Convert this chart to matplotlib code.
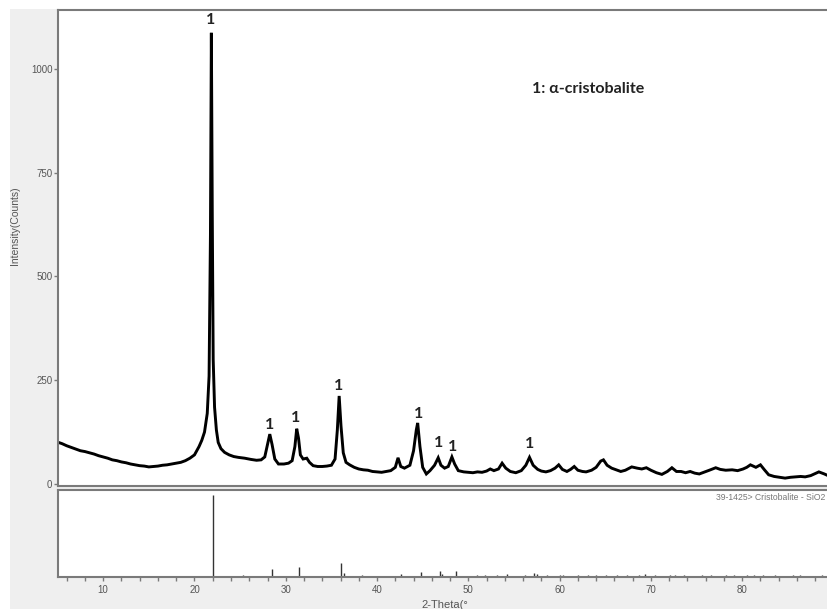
import numpy as np
import matplotlib
matplotlib.use('Agg')
import matplotlib.pyplot as plt


''' DATA '''
two_theta = [5.1, 5.5, 6.0, 6.5, 7.0, 7.5, 8.0, 8.5, 9.0, 9.5, 10.0, 10.5, 11.0, 11.5, 12.0,
             12.5, 13.0, 13.5, 14.0, 14.5, 15.0, 15.5, 16.0, 16.5, 17.0, 17.5, 18.0, 18.5,
             19.0, 19.5, 20.0, 20.5, 20.8, 21.1, 21.4, 21.6, 21.75, 21.85, 21.95, 22.05,
             22.2, 22.4, 22.6, 22.9, 23.3, 23.8, 24.3, 24.8, 25.5, 26.2, 26.8, 27.3, 27.7,
             28.0, 28.25, 28.5, 28.8, 29.2, 29.8, 30.3, 30.7, 31.0, 31.2, 31.4, 31.6, 31.9,
             32.3, 32.6, 33.0, 33.5, 34.0, 34.5, 35.0, 35.4, 35.65, 35.85, 36.05, 36.3,
             36.6, 37.0, 37.5, 38.0, 38.5, 39.0, 39.5, 40.0, 40.5, 41.0, 41.5, 42.0, 42.3,
             42.6, 43.0, 43.6, 44.0, 44.3, 44.45, 44.7, 45.0, 45.4, 45.8, 46.3, 46.7, 47.0,
             47.4, 47.8, 48.2, 48.5, 48.9, 49.5, 50.0, 50.5, 51.0, 51.5, 52.0, 52.4, 52.8,
             53.3, 53.7, 54.1, 54.6, 55.2, 55.8, 56.3, 56.7, 57.1, 57.6, 58.0, 58.5, 59.0,
             59.5, 59.9, 60.3, 60.8, 61.2, 61.6, 62.0, 62.5, 62.9, 63.5, 64.0, 64.5, 64.8,
             65.2, 65.7, 66.2, 66.7, 67.2, 67.9, 68.5, 69.0, 69.5, 70.0, 70.6, 71.2, 71.8,
             72.3, 72.8, 73.3, 73.8, 74.3, 74.8, 75.3, 75.8, 76.4, 77.1, 77.6, 78.2, 78.9,
             79.5, 80.1, 80.5, 80.9, 81.5, 82.0, 82.4, 82.9, 83.5, 84.1, 84.7, 85.3, 85.9,
             86.4, 86.9, 87.5, 88.0, 88.4, 89.0, 89.4]
counts = [100, 97, 92, 88, 84, 80, 78, 75, 72, 68, 65, 62, 58, 56, 53,
          51, 48, 46, 44, 43, 41, 42, 43, 45, 46, 48, 50, 52,
          56, 62, 70, 90, 105, 125, 170, 260, 600, 1087, 650, 300,
          185, 130, 100, 85, 76, 70, 66, 64, 62, 59, 57, 58, 65,
          95, 120, 95, 60, 48, 48, 50, 56, 90, 133, 110, 70, 60,
          62, 52, 44, 42, 42, 43, 45, 60, 130, 212, 140, 75,
          52, 46, 40, 36, 34, 33, 30, 29, 28, 30, 32, 40, 63,
          42, 38, 45, 80, 130, 147, 90, 40, 24, 32, 45, 63, 45,
          38, 42, 65, 48, 32, 29, 28, 27, 29, 28, 31, 36, 32,
          36, 50, 38, 30, 27, 32, 45, 64, 45, 35, 31, 29, 32,
          38, 46, 35, 30, 35, 42, 33, 30, 29, 33, 40, 55, 58,
          45, 38, 34, 30, 33, 41, 38, 36, 39, 33, 27, 23, 30,
          39, 30, 30, 27, 30, 26, 24, 28, 33, 39, 35, 33, 34,
          32, 36, 40, 46, 40, 46, 35, 22, 18, 16, 14, 16, 17,
          18, 17, 20, 25, 29, 24, 20]

# Reference card 39-1425 (cristobalite) stick positions and relative intensities
stick_pos = [21.98, 25.3, 28.44, 31.46, 36.08, 36.38, 38.4, 42.6, 44.8, 46.9, 47.1, 48.6,
             50.9, 51.8, 53.1, 54.2, 56.2, 57.2, 57.5, 58.6, 60.0, 60.4, 62.0, 63.1, 64.0,
             65.1, 66.3, 67.4, 68.7, 69.4, 70.5, 72.1, 72.6, 73.6, 75.6, 76.6, 78.2, 79.1,
             80.5, 81.3, 82.3, 83.6, 85.6, 86.3, 88.7]
stick_int = [100, 2, 10, 12, 17, 5, 3, 4, 6, 7, 4, 7,
             2, 3, 3, 4, 3, 5, 4, 3, 3, 3, 3, 2, 3,
             3, 2, 3, 3, 4, 3, 3, 3, 2, 3, 3, 2, 3,
             2, 3, 2, 2, 2, 2, 3]

# Peak markers "1" (alpha-cristobalite)
label_x = [21.8, 28.2, 31.1, 35.8, 44.5, 46.7, 48.3, 56.7]
label_y = [1118, 142, 159, 236, 169, 99, 89, 96]


''' PLOT '''
fig = plt.figure(figsize=(8.28, 6.09), dpi=100, facecolor='white')

# light grey frame of the diffractometer window
bg = fig.add_axes([10/828, 0, 818/828, 600/609], zorder=-5)
bg.set_facecolor('#efefef')
bg.set_xticks([])
bg.set_yticks([])
for s in bg.spines.values():
    s.set_visible(False)

spine_col = '#7a7a7a'
tick_col = '#555555'

# top panel: measured pattern
ax = fig.add_axes([58/828, 1 - 486/609, 770/828, 476/609])
ax.plot(two_theta, counts, color='black', lw=2.1, solid_joinstyle='miter')
ax.set_xlim(5.05, 89.4)
ax.set_ylim(-5, 1142)
ax.set_yticks([0, 250, 500, 750, 1000])
ax.set_xticks([])
ax.tick_params(axis='y', direction='out', length=3, width=1, colors=spine_col,
               labelcolor=tick_col, labelsize=7, pad=1)
for lbl in ax.get_yticklabels():
    lbl.set_family('Liberation Sans')
ax.spines['right'].set_visible(False)
for k in ['left', 'top', 'bottom']:
    ax.spines[k].set_color(spine_col)
    ax.spines[k].set_linewidth(1.5)
ax.set_ylabel('Intensity(Counts)', fontsize=7.5, color=tick_col, family='Liberation Sans')
ax.yaxis.set_label_coords(-58/770 + 20/770, (484 - 224)/476)

for x, y in zip(label_x, label_y):
    ax.text(x, y, '1', ha='center', va='center', fontsize=11.5, fontweight='bold',
            family=['Lato', 'DejaVu Sans'], color='#222222')

ax.text(0.615, 0.835, '1: α-cristobalite', transform=ax.transAxes, fontsize=11.5,
        fontweight='bold', family=['Lato', 'DejaVu Sans'], color='#222222', va='center')

# bottom panel: reference sticks
ax2 = fig.add_axes([58/828, 1 - 577/609, 770/828, 87/609])
ax2.vlines(stick_pos, 0, stick_int, color='#333333', lw=1)
ax2.set_xlim(5.05, 89.4)
ax2.set_ylim(0, 106)
ax2.set_yticks([])
ax2.set_xticks(np.arange(10, 90, 10))
ax2.set_xticks(np.arange(6, 90, 2), minor=True)
ax2.tick_params(axis='x', which='both', direction='out', length=3, width=1, colors=spine_col,
                labelcolor=tick_col, labelsize=7, pad=3)
for lbl in ax2.get_xticklabels():
    lbl.set_family('Liberation Sans')
ax2.spines['right'].set_visible(False)
for k in ['left', 'top', 'bottom']:
    ax2.spines[k].set_color(spine_col)
    ax2.spines[k].set_linewidth(1.5)
ax2.text(0.997, 0.91, '39-1425> Cristobalite - SiO2', transform=ax2.transAxes,
         fontsize=6.2, color='#777777', family='Liberation Sans', va='center', ha='right')
ax2.set_xlabel('2-Theta(°', fontsize=8, color=tick_col, family='Liberation Sans')
ax2.xaxis.set_label_coords((445 - 58)/770, -(600 - 577)/87)

fig.savefig('out.png', dpi=100, facecolor='white')
